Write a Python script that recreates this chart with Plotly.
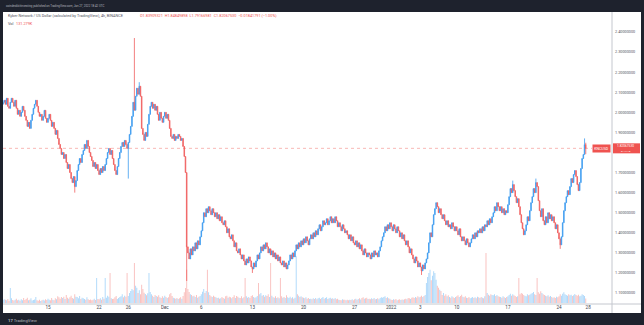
import plotly.graph_objects as go
import pandas as pd

W, H = 644, 325

# ---------------- data (4h candles, KNC/USD, Binance) ----------------
start_time = "2021-11-08 20:00"
first_open = 2.04
closes = [
    2.05,                                   # Nov 8
    2.06, 2.04, 2.07, 2.03, 2.02, 2.05,     # Nov 9
    2.07, 2.05, 2.03, 2.06, 2.02, 1.99,     # Nov 10
    2.01, 1.98, 2.00, 2.03, 2.01, 1.98,     # Nov 11
    1.96, 1.93, 1.95, 1.92, 1.96, 1.99,     # Nov 12
    2.02, 2.04, 2.06, 2.03, 2.00, 1.98,     # Nov 13
    1.99, 1.96, 1.98, 2.01, 1.97, 1.95,     # Nov 14
    1.97, 1.99, 1.96, 1.93, 1.95, 1.92,     # Nov 15
    1.89, 1.91, 1.87, 1.84, 1.82, 1.79,     # Nov 16
    1.80, 1.77, 1.79, 1.75, 1.72, 1.74,     # Nov 17
    1.70, 1.67, 1.65, 1.68, 1.63, 1.66,     # Nov 18
    1.71, 1.74, 1.77, 1.75, 1.79, 1.81,     # Nov 19
    1.84, 1.82, 1.86, 1.83, 1.80, 1.78,     # Nov 20
    1.76, 1.73, 1.75, 1.72, 1.74, 1.71,     # Nov 21
    1.69, 1.72, 1.70, 1.73, 1.71, 1.74,     # Nov 22
    1.77, 1.80, 1.82, 1.79, 1.81, 1.77,     # Nov 23
    1.74, 1.71, 1.69, 1.73, 1.77, 1.80,     # Nov 24
    1.83, 1.85, 1.83, 1.86, 1.84, 1.82,     # Nov 25
    1.85, 1.89, 1.93, 1.98, 2.05, 2.01,     # Nov 26
    2.08, 2.12, 2.09, 2.13, 2.08, 1.92,     # Nov 27
    1.89, 1.86, 1.90, 1.88, 1.94, 1.99,     # Nov 28
    2.03, 2.05, 2.02, 2.04, 2.01, 2.03,     # Nov 29
    1.99, 1.96, 2.00, 1.97, 1.95, 1.98,     # Nov 30
    2.00, 1.97, 1.99, 1.96, 1.92, 1.88,     # Dec 1
    1.87, 1.89, 1.86, 1.88, 1.87, 1.89,     # Dec 2
    1.88, 1.86, 1.87, 1.83, 1.78, 1.70,     # Dec 3
    1.33, 1.30, 1.27, 1.32, 1.29, 1.33,     # Dec 4
    1.31, 1.35, 1.32, 1.36, 1.34, 1.38,     # Dec 5
    1.41, 1.45, 1.50, 1.48, 1.52, 1.50,     # Dec 6
    1.53, 1.51, 1.49, 1.52, 1.50, 1.48,     # Dec 7
    1.50, 1.47, 1.49, 1.46, 1.48, 1.45,     # Dec 8
    1.44, 1.46, 1.43, 1.40, 1.42, 1.38,     # Dec 9
    1.37, 1.39, 1.36, 1.33, 1.35, 1.31,     # Dec 10
    1.30, 1.32, 1.29, 1.27, 1.29, 1.26,     # Dec 11
    1.24, 1.27, 1.25, 1.28, 1.26, 1.23,     # Dec 12
    1.22, 1.25, 1.23, 1.26, 1.29, 1.27,     # Dec 13
    1.30, 1.33, 1.31, 1.34, 1.32, 1.35,     # Dec 14
    1.33, 1.30, 1.32, 1.29, 1.31, 1.28,     # Dec 15
    1.30, 1.27, 1.29, 1.26, 1.28, 1.25,     # Dec 16
    1.24, 1.26, 1.23, 1.25, 1.22, 1.24,     # Dec 17
    1.26, 1.29, 1.27, 1.30, 1.28, 1.31,     # Dec 18
    1.34, 1.32, 1.35, 1.33, 1.36, 1.34,     # Dec 19
    1.37, 1.35, 1.38, 1.36, 1.34, 1.37,     # Dec 20
    1.39, 1.37, 1.40, 1.38, 1.41, 1.39,     # Dec 21
    1.42, 1.44, 1.41, 1.43, 1.46, 1.44,     # Dec 22
    1.45, 1.47, 1.44, 1.46, 1.48, 1.45,     # Dec 23
    1.47, 1.45, 1.48, 1.46, 1.43, 1.45,     # Dec 24
    1.43, 1.41, 1.44, 1.42, 1.40, 1.41,     # Dec 25
    1.39, 1.37, 1.39, 1.36, 1.38, 1.35,     # Dec 26
    1.34, 1.36, 1.33, 1.35, 1.32, 1.34,     # Dec 27
    1.31, 1.29, 1.32, 1.30, 1.28, 1.30,     # Dec 28
    1.29, 1.27, 1.30, 1.28, 1.31, 1.29,     # Dec 29
    1.30, 1.28, 1.31, 1.33, 1.36, 1.38,     # Dec 30
    1.40, 1.43, 1.41, 1.44, 1.42, 1.45,     # Dec 31
    1.43, 1.41, 1.44, 1.42, 1.40, 1.43,     # Jan 1
    1.41, 1.38, 1.40, 1.37, 1.39, 1.36,     # Jan 2
    1.34, 1.36, 1.33, 1.30, 1.32, 1.29,     # Jan 3
    1.27, 1.25, 1.28, 1.26, 1.23, 1.25,     # Jan 4
    1.23, 1.21, 1.24, 1.22, 1.25, 1.27,     # Jan 5
    1.30, 1.35, 1.40, 1.38, 1.44, 1.49,     # Jan 6
    1.52, 1.55, 1.53, 1.50, 1.52, 1.49,     # Jan 7
    1.47, 1.49, 1.46, 1.44, 1.46, 1.43,     # Jan 8
    1.44, 1.42, 1.45, 1.43, 1.41, 1.43,     # Jan 9
    1.41, 1.39, 1.42, 1.38, 1.36, 1.38,     # Jan 10
    1.36, 1.34, 1.37, 1.35, 1.33, 1.35,     # Jan 11
    1.37, 1.39, 1.37, 1.40, 1.38, 1.41,     # Jan 12
    1.40, 1.42, 1.40, 1.43, 1.41, 1.44,     # Jan 13
    1.43, 1.46, 1.44, 1.47, 1.45, 1.48,     # Jan 14
    1.50, 1.53, 1.51, 1.55, 1.53, 1.51,     # Jan 15
    1.53, 1.50, 1.52, 1.49, 1.51, 1.50,     # Jan 16
    1.54, 1.58, 1.62, 1.60, 1.64, 1.61,     # Jan 17
    1.58, 1.55, 1.57, 1.53, 1.49, 1.45,     # Jan 18
    1.42, 1.39, 1.41, 1.44, 1.48, 1.46,     # Jan 19
    1.51, 1.55, 1.58, 1.62, 1.60, 1.65,     # Jan 20
    1.63, 1.56, 1.51, 1.48, 1.52, 1.46,     # Jan 21
    1.44, 1.48, 1.45, 1.50, 1.47, 1.49,     # Jan 22
    1.46, 1.48, 1.45, 1.42, 1.44, 1.40,     # Jan 23
    1.37, 1.34, 1.38, 1.45, 1.51, 1.55,     # Jan 24
    1.58, 1.61, 1.59, 1.63, 1.67, 1.65,     # Jan 25
    1.69, 1.71, 1.68, 1.64, 1.61, 1.65,     # Jan 26
    1.72, 1.77, 1.79, 1.83909321, 1.82067530,  # Jan 27
]
volumes_k = [
    90,
    110, 95, 80, 120, 70, 450,
    140, 90, 75, 100, 130, 85,
    95, 70, 110, 85, 150, 90,
    120, 160, 80, 95, 140, 75,
    90, 105, 180, 80, 70, 95,
    60, 85, 100, 75, 110, 90,
    130, 95, 80, 150, 100, 85,
    140, 110, 200, 170, 130, 180,
    150, 190, 120, 240, 160, 130,
    170, 220, 150, 130, 260, 190,
    180, 140, 210, 120, 160, 140,
    120, 95, 170, 110, 90, 105,
    85, 100, 130, 90, 750, 120,
    110, 140, 95, 180, 130, 750,
    160, 220, 190, 900, 140, 120,
    130, 170, 210, 120, 150, 180,
    200, 260, 170, 220, 190, 900,
    210, 300, 360, 420, 380, 1200,
    520, 460, 300, 380, 260, 550,
    420, 310, 270, 230, 290, 900,
    330, 260, 220, 180, 240, 210,
    190, 230, 170, 150, 200, 160,
    220, 180, 150, 170, 260, 300,
    210, 160, 140, 130, 150, 120,
    140, 170, 130, 210, 320, 450,
    1000, 420, 330, 260, 240, 200,
    220, 180, 240, 160, 190, 210,
    260, 340, 420, 300, 360, 1000,
    320, 240, 200, 180, 220, 190,
    170, 150, 160, 130, 140, 180,
    150, 130, 200, 220, 160, 190,
    170, 140, 180, 230, 150, 210,
    190, 160, 150, 200, 140, 170,
    750, 200, 160, 180, 150, 210,
    230, 180, 160, 170, 210, 600,
    260, 300, 220, 240, 190, 230,
    210, 260, 180, 1200, 220, 170,
    160, 200, 150, 170, 140, 750,
    200, 160, 180, 150, 230, 170,
    150, 190, 140, 170, 130, 160,
    1400, 260, 220, 180, 200, 170,
    160, 140, 170, 130, 150, 120,
    130, 110, 140, 120, 150, 110,
    140, 160, 120, 150, 180, 130,
    150, 170, 120, 140, 160, 130,
    140, 120, 150, 110, 130, 100,
    90, 80, 110, 95, 100, 85,
    95, 80, 100, 90, 110, 85,
    110, 130, 100, 120, 140, 105,
    150, 170, 130, 140, 160, 120,
    130, 110, 140, 120, 150, 110,
    120, 140, 110, 150, 170, 160,
    180, 200, 150, 170, 140, 130,
    100, 90, 110, 95, 120, 85,
    95, 110, 90, 105, 100, 115,
    130, 110, 150, 140, 120, 160,
    170, 150, 180, 160, 200, 170,
    190, 220, 180, 210, 240, 600,
    780, 900, 1000, 680, 820, 950,
    900, 700, 520, 460, 400, 360,
    240, 300, 220, 260, 200, 230,
    180, 160, 200, 170, 150, 180,
    200, 230, 180, 210, 250, 190,
    170, 200, 160, 150, 180, 140,
    160, 180, 150, 170, 140, 190,
    170, 150, 180, 160, 140, 200,
    1500, 300, 250, 220, 260, 240,
    230, 260, 210, 240, 200, 190,
    180, 160, 200, 170, 150, 180,
    200, 240, 280, 220, 260, 230,
    210, 180, 200, 750, 260, 300,
    280, 240, 220, 200, 260, 230,
    250, 280, 300, 330, 260, 240,
    750, 320, 280, 350, 300, 260,
    240, 220, 200, 230, 190, 210,
    180, 160, 170, 150, 190, 170,
    200, 260, 220, 280, 320, 260,
    240, 220, 260, 230, 250, 210,
    230, 270, 240, 220, 250, 200,
    220, 260, 240, 210, 131.279,
]
# notable wicks
wick_highs = {
    "2021-11-26 20:00": 2.37,
    "2021-11-27 12:00": 2.15,
    "2022-01-17 16:00": 1.66,
    "2022-01-20 20:00": 1.67,
    "2022-01-27 12:00": 1.87,
    "2022-01-27 16:00": 1.84849898,
}
wick_lows = {
    "2021-11-18 16:00": 1.60,
    "2021-11-26 00:00": 1.67,
    "2021-12-04 00:00": 1.16,
    "2021-12-13 00:00": 1.20,
    "2022-01-05 04:00": 1.19,
    "2022-01-24 04:00": 1.32,
    "2022-01-27 16:00": 1.79166981,
}

# 1.8 is hidden behind the last-price tag in the reference
price_ticks = [1.1, 1.2, 1.3, 1.4, 1.5, 1.6, 1.7, 1.9, 2.0, 2.1, 2.2, 2.3, 2.4]
date_tick_vals = ["2021-11-15", "2021-11-22", "2021-11-26", "2021-12-01", "2021-12-06",
                  "2021-12-13", "2021-12-20", "2021-12-27", "2022-01-01", "2022-01-05",
                  "2022-01-10", "2022-01-17", "2022-01-24", "2022-01-28"]
date_tick_text = ["15", "22", "26", "Dec", "6", "13", "20", "27", "2022", "3",
                  "10", "17", "24", "28"]
last_price = 1.82067530

# ---------------- build ----------------
times = pd.date_range(start_time, periods=len(closes), freq="4h")
opens = [first_open] + closes[:-1]
highs = [max(o, c) for o, c in zip(opens, closes)]
lows = [min(o, c) for o, c in zip(opens, closes)]
for k, v in wick_highs.items():
    i = times.get_loc(pd.Timestamp(k))
    highs[i] = max(highs[i], v)
for k, v in wick_lows.items():
    i = times.get_loc(pd.Timestamp(k))
    lows[i] = min(lows[i], v)

UP = "#3d9cf0"
DN = "#f06060"
vol_colors = ["rgba(33,150,243,0.38)" if c >= o else "rgba(239,83,80,0.38)"
              for o, c in zip(opens, closes)]

def px(x):
    return x / W

def py(y):
    return 1 - y / H

PLOT_BOTTOM = 303  # pixel row of the price pane bottom

fig = go.Figure()
fig.add_trace(go.Bar(
    x=times, y=volumes_k, marker=dict(color=vol_colors, line=dict(width=0)),
    yaxis="y2", showlegend=False, hoverinfo="skip"))
fig.add_trace(go.Candlestick(
    x=times, open=opens, high=highs, low=lows, close=closes,
    increasing=dict(line=dict(color=UP, width=0.8), fillcolor=UP),
    decreasing=dict(line=dict(color=DN, width=0.8), fillcolor=DN),
    whiskerwidth=0, showlegend=False))

ref = pd.Timestamp("2021-11-15")
x_left = ref - pd.Timedelta(days=(48 - 3) / 7.3)
x_right = ref + pd.Timedelta(days=(612 - 48) / 7.3)

font = "Roboto, Arial, sans-serif"
fig.update_layout(
    width=W, height=H, margin=dict(l=0, r=0, t=0, b=0),
    paper_bgcolor="#1e222d", plot_bgcolor="#ffffff",
    bargap=0.25,
    xaxis=dict(domain=[px(3), px(612)], range=[x_left, x_right], type="date",
               rangeslider=dict(visible=False), showgrid=False, zeroline=False,
               tickmode="array", tickvals=date_tick_vals, ticktext=date_tick_text,
               tickfont=dict(family=font, size=4.6, color="#434651"), ticks="",
               showline=False),
    yaxis=dict(domain=[py(PLOT_BOTTOM), py(12)],
               range=[2.4 - (PLOT_BOTTOM - 32) / 200.8, 2.4 + 20 / 200.8],
               side="right", tickmode="array", tickvals=price_ticks,
               tickformat=".8f", tickfont=dict(family=font, size=3.8, color="#50535e"),
               showgrid=False, zeroline=False, ticks="", ticklabelstandoff=2),
    yaxis2=dict(domain=[py(PLOT_BOTTOM), py(12)], overlaying="y",
                range=[0, (PLOT_BOTTOM - 12) * 30], visible=False, fixedrange=True),
    hovermode=False,
)

shapes = [
    dict(type="rect", xref="paper", yref="paper", x0=px(3), x1=px(641), y0=py(313), y1=py(12),
         fillcolor="#ffffff", line=dict(width=0), layer="below"),
    dict(type="line", xref="paper", yref="paper", x0=px(612), x1=px(612), y0=py(313), y1=py(12),
         line=dict(color="#c4c7ce", width=1)),
    dict(type="line", xref="paper", yref="paper", x0=px(3), x1=px(641), y0=py(304), y1=py(304),
         line=dict(color="#c4c7ce", width=1)),
    dict(type="line", xref="paper", yref="y", x0=px(3), x1=px(592), y0=last_price, y1=last_price,
         line=dict(color="rgba(239,83,80,0.7)", width=0.6, dash="dot")),
    dict(type="rect", xref="paper", yref="y", x0=px(613), x1=px(640),
         y0=last_price - 5 / 200.8, y1=last_price + 5 / 200.8,
         fillcolor="#ef5350", line=dict(width=0)),
]
fig.update_layout(shapes=shapes)

red = "#ef5350"
ann = [
    dict(x=px(4), y=py(6), text="coindeskbitinvesting published on TradingView.com, Jan 27, 2022 18:42 UTC",
         font=dict(family=font, size=2.9, color="#b2b5be")),
    dict(x=px(6), y=py(16), text="Kyber Network / US Dollar (calculated by TradingView), 4h, BINANCE",
         font=dict(family=font, size=3.8, color="#50535e")),
    dict(x=px(138), y=py(16),
         text="O1.83909321  H1.84849898  L1.79166981  C1.82067530  −0.01841791 (−1.00%)",
         font=dict(family=font, size=3.8, color=red)),
    dict(x=px(6), y=py(23.5), text="Vol", font=dict(family=font, size=3.8, color="#50535e")),
    dict(x=px(14), y=py(23.5), text="131.279K", font=dict(family=font, size=3.8, color=red)),
    dict(x=px(6), y=py(320), text="<b>17</b> TradingView",
         font=dict(family=font, size=4.2, color="#b2b5be")),
    dict(x=px(615), y=py(145.8), text="1.82067530",
         font=dict(family=font, size=3.2, color="#ffffff")),
    dict(x=px(619), y=py(151.9), text="01:17:18",
         font=dict(family=font, size=2.4, color="#ffffff")),
]
for a in ann:
    a.update(xref="paper", yref="paper", xanchor="left", yanchor="middle", showarrow=False)
ann.append(dict(xref="paper", yref="y", x=px(592), y=last_price, xanchor="left", yanchor="middle",
                text="KNCUSD", showarrow=False, bgcolor=red, width=17, height=7, borderpad=0,
                font=dict(family=font, size=3.6, color="#ffffff")))
fig.update_layout(annotations=ann)

fig.write_html("out.html")
